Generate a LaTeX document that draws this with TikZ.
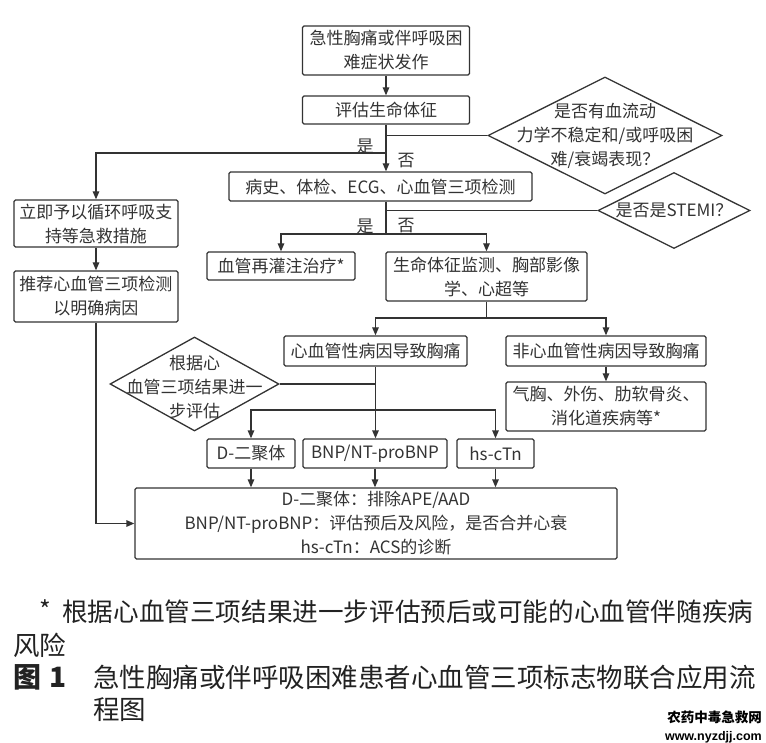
\documentclass[tikz,border=0pt]{standalone}
\usepackage{fontspec}
\setmainfont{Noto Sans CJK SC}
\newfontfamily\cjk{Noto Sans CJK SC}
\newfontfamily\wmfont{Liberation Sans}
\usetikzlibrary{arrows.meta,shapes.geometric,calc}
\definecolor{ink}{HTML}{333333}
\definecolor{capink}{HTML}{222222}
\begin{document}
\begin{tikzpicture}[x=1pt,y=-1pt,
  every node/.style={font=\fontsize{17}{24}\selectfont, text=ink},
  box/.style={draw=ink, line width=1.3pt, rounded corners=1.5pt, inner sep=0pt, align=center, fill=white},
  dia/.style={draw=ink, line width=1.3pt, diamond, inner sep=0pt, fill=white},
  dtext/.style={align=center, inner sep=0pt},
  line/.style={draw=ink, line width=1.3pt},
  arr/.style={line, -{Triangle[length=8pt,width=6.5pt]}},
  captext/.style={anchor=west, inner sep=0pt, text=capink, font=\fontsize{26.5}{30}\selectfont},
]
\useasboundingbox (0,0) rectangle (766,743);

% nodes
\node[box, minimum width=167pt, minimum height=49pt] (b1) at (386,50.5) {急性胸痛或伴呼吸困\\难症状发作};
\node[box, minimum width=167pt, minimum height=28pt] (b2) at (386,110) {评估生命体征};
\node[dia, minimum width=234pt, minimum height=117pt] (d1) at (605,135.5) {};
\node[dtext] (d1t) at (d1.center) {是否有血流动\\力学不稳定和/或呼吸困\\难/衰竭表现？};
\node[box, minimum width=303pt, minimum height=29pt] (b3) at (380.5,186.5) {病史、体检、ECG、心血管三项检测};
\node[dia, minimum width=152pt, minimum height=76pt] (d2) at (674,210.5) {};
\node[dtext] (d2t) at (d2.center) {是否是STEMI？};
\node[box, minimum width=164pt, minimum height=47pt] (L1) at (96,223.5) {立即予以循环呼吸支\\持等急救措施};
\node[box, minimum width=164pt, minimum height=51pt] (L2) at (96,296.5) {推荐心血管三项检测\\以明确病因};
\node[box, minimum width=148pt, minimum height=28pt] (b4) at (281,266) {血管再灌注治疗*};
\node[box, minimum width=201pt, minimum height=49pt] (b5) at (486.5,276.5) {生命体征监测、胸部影像\\学、心超等};
\node[box, minimum width=183pt, minimum height=30pt] (b6) at (375.5,351) {心血管性病因导致胸痛};
\node[box, minimum width=200pt, minimum height=30pt] (b7) at (606,351) {非心血管性病因导致胸痛};
\node[box, minimum width=200pt, minimum height=49pt] (b8) at (606,406.5) {气胸、外伤、肋软骨炎、\\消化道疾病等*};
\node[dia, minimum width=169pt, minimum height=94pt] (d3) at (194.5,384) {};
\node[dtext] (d3t) at (194.5,387) {根据心\\血管三项结果进一\\步评估};
\node[box, minimum width=88pt, minimum height=29pt] (b9) at (251,453.5) {D-二聚体};
\node[box, minimum width=144pt, minimum height=29pt] (b10) at (375,453.5) {BNP/NT-proBNP};
\node[box, minimum width=77pt, minimum height=29pt] (b11) at (495.5,453.5) {hs-cTn};
\node[box, minimum width=482pt, minimum height=71pt] (b12) at (376,523.5) {D-二聚体：排除APE/AAD\\BNP/NT-proBNP：评估预后及风险，是否合并心衰\\hs-cTn：ACS的诊断};

% yes / no labels
\node[inner sep=0pt] (yes1) at (365,146) {是};
\node[inner sep=0pt] (no1) at (406,161) {否};
\node[inner sep=0pt] (yes2) at (365,226) {是};
\node[inner sep=0pt] (no2) at (406,226) {否};

% junctions
\coordinate (s1) at (386,153);
\coordinate (s3) at (386,234);
\coordinate (s4) at (487,318);
\coordinate (s5) at (376,410);

% connectors
\draw[arr] (b1) -- (b2);
\draw[arr] (b2) -- (b2 |- b3.north);
\draw[line] (b2 |- d1.west) -- (d1.west);
\draw[arr] (s1) -| (L1.north);
\draw[line] (b3.south -| s1) -- (s3);
\draw[line] (s1 |- d2.west) -- (d2.west);
\draw[arr] (s3) -| (b4.north);
\draw[arr] (s3) -| (b5.north);
\draw[line] (b5.south) -- (b5.south |- s4);
\draw[arr] (b5.south |- s4) -| (b6.north);
\draw[arr] (b5.south |- s4) -| (b7.north);
\draw[arr] (b7) -- (b8);
\draw[line] (b6.south) -- (b6.south |- s5);
\draw[line] (d3.east) -- (d3.east -| b6.south);
\draw[arr] (b6.south |- s5) -| (b9.north);
\draw[arr] (b6.south |- s5) -| (b11.north);
\draw[arr] (b6.south |- s5) -- (b6.south |- b10.north);
\draw[arr] (b9) -- (b9 |- b12.north);
\draw[arr] (b10) -- (b10 |- b12.north);
\draw[arr] (b11) -- (b11 |- b12.north);
\draw[arr] (L1) -- (L2);
\draw[arr] (L2.south) |- (b12.west);

% captions
\node[inner sep=0pt, text=capink, font=\fontsize{25}{30}\selectfont] (ast) at (45,610) {*};
\node[captext, font=\fontsize{25.6}{30}\selectfont] (c1) at (62,612) {根据心血管三项结果进一步评估预后或可能的心血管伴随疾病};
\node[captext] (c2) at (13,645) {风险};
\node[captext, font=\fontsize{28}{30}\selectfont\bfseries] (fig) at (13,677) {图\hspace{8pt}1};
\node[captext] (c3) at (93,677) {急性胸痛或伴呼吸困难患者心血管三项标志物联合应用流};
\node[captext] (c4) at (93,710) {程图};

% watermark
\node[anchor=east, inner sep=0pt, text=black, font=\cjk\bfseries\fontsize{13.5}{14}\selectfont] (wm1) at (762,717) {农药中毒急救网};
\node[anchor=east, inner sep=0pt, text=black, font=\wmfont\bfseries\fontsize{12.5}{13}\selectfont] (wm2) at (762,737) {www.nyzdjj.com};
\end{tikzpicture}
\end{document}
